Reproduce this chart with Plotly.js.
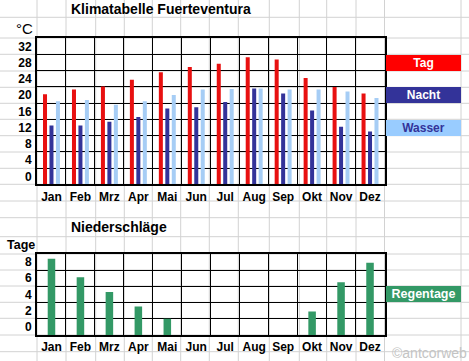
<!DOCTYPE html>
<html>
<head>
<meta charset="utf-8">
<script src="https://cdn.plot.ly/plotly-3.0.1.min.js"></script>
<style>
  html, body { margin: 0; padding: 0; background: #ffffff; }
  #chart { width: 469px; height: 361px; }
</style>
</head>
<body>
<div id="chart"></div>
<script>
// ---- data ----
const months = ['Jan', 'Feb', 'Mrz', 'Apr', 'Mai', 'Jun', 'Jul', 'Aug', 'Sep', 'Okt', 'Nov', 'Dez'];
const tagTemp    = [22.2, 23.4, 24.1, 25.8, 27.6, 28.9, 29.7, 31.3, 30.8, 26.2, 24.0, 22.4];
const nachtTemp  = [14.5, 14.5, 15.4, 16.6, 18.7, 19.0, 20.3, 23.6, 22.4, 18.2, 14.2, 13.0];
const wasserTemp = [20.5, 20.8, 19.6, 20.5, 22.0, 23.4, 23.5, 23.6, 23.4, 23.4, 22.9, 21.3];
const regentage  = [9.4, 7.1, 5.3, 3.5, 2.0, 0, 0, 0, 0, 2.9, 6.5, 8.9];
const tempTicks  = [0, 4, 8, 12, 16, 20, 24, 28, 32];
const rainTicks  = [0, 2, 4, 6, 8];

// ---- page geometry (pixels) ----
const W = 469, H = 361;
const FONT = 'Arial, "Liberation Sans", sans-serif';
const sheetCols = [37, 66, 95.7, 124.3, 152.3, 180.7, 209.3, 238.3, 269.3, 299.3, 326.7, 356, 384.5, 461];
const sheetRows = [17.3, 38, 54.3, 71, 87.3, 103.3, 119.3, 135.7, 152, 168.3, 184.3, 201, 217.7, 236.7, 254, 270, 286, 302.3, 318.3, 335, 351.7];
const px = v => v / W;
const py = v => 1 - v / H;

const shapes = [];
sheetCols.forEach(c => shapes.push({type: 'line', xref: 'paper', yref: 'paper', layer: 'below',
  x0: px(c), x1: px(c), y0: 0, y1: 1, line: {color: '#d2d2d2', width: 1}}));
sheetRows.forEach(r => shapes.push({type: 'line', xref: 'paper', yref: 'paper', layer: 'below',
  x0: 0, x1: 1, y0: py(r), y1: py(r), line: {color: '#d2d2d2', width: 1}}));

const traces = [
  {type: 'bar', name: 'Tag', x: months, y: tagTemp, xaxis: 'x', yaxis: 'y',
   marker: {color: '#e81010', line: {width: 0}}, hoverinfo: 'skip'},
  {type: 'bar', name: 'Nacht', x: months, y: nachtTemp, xaxis: 'x', yaxis: 'y',
   marker: {color: '#333399', line: {width: 0}}, hoverinfo: 'skip'},
  {type: 'bar', name: 'Wasser', x: months, y: wasserTemp, xaxis: 'x', yaxis: 'y',
   marker: {color: '#a6cdf5', line: {width: 0}}, hoverinfo: 'skip'},
  {type: 'bar', name: 'Regentage', x: months, y: regentage, xaxis: 'x2', yaxis: 'y2', width: 0.26,
   marker: {color: '#339966', line: {width: 0}}, hoverinfo: 'skip'}
];

const xCommon = {
  type: 'category', domain: [px(37), px(384.5)],
  tickson: 'boundaries', ticks: '', showgrid: true, gridcolor: '#000000', gridwidth: 1,
  showline: true, linecolor: '#000000', linewidth: 2, mirror: true,
  tickangle: 0, automargin: false,
  tickfont: {family: FONT, size: 12, color: '#000000', weight: 'bold'},
  fixedrange: true
};
const yCommon = {
  ticks: '', showgrid: true, gridcolor: '#000000', gridwidth: 1, zeroline: false,
  showline: true, linecolor: '#000000', linewidth: 2, mirror: true, automargin: false,
  tickfont: {family: FONT, size: 12, color: '#000000', weight: 'bold'},
  ticklabelshift: -8, ticklabelstandoff: 1, fixedrange: true
};

const annFont = (size, color, weight) => ({family: FONT, size: size, color: color, weight: weight || 'bold'});
const legendBox = (text, yref, yv, bg, fg, size) => ({
  xref: 'paper', yref: yref, x: px(385.5), y: yv, xanchor: 'left', yanchor: 'middle',
  text: text, showarrow: false, width: 75, height: 16, borderpad: 0, borderwidth: 0,
  bgcolor: bg, font: annFont(size || 12, fg), align: 'center', valign: 'middle'
});

const layout = {
  width: W, height: H,
  margin: {l: 0, r: 0, t: 0, b: 0, pad: 0},
  paper_bgcolor: '#ffffff', plot_bgcolor: '#ffffff',
  showlegend: false,
  barmode: 'group', bargap: 0.33, bargroupgap: 0.38,
  font: {family: FONT, color: '#000000'},
  xaxis: Object.assign({}, xCommon, {anchor: 'y'}),
  yaxis: Object.assign({}, yCommon, {anchor: 'x', domain: [py(184.3), py(38.3)],
    range: [0, 36], tickvals: tempTicks}),
  xaxis2: Object.assign({}, xCommon, {anchor: 'y2'}),
  yaxis2: Object.assign({}, yCommon, {anchor: 'x2', domain: [py(335), py(253.8)],
    range: [0, 10], tickvals: rainTicks}),
  shapes: shapes,
  annotations: [
    {xref: 'paper', yref: 'paper', x: px(69), y: py(9), xanchor: 'left', yanchor: 'middle',
     text: 'Klimatabelle Fuerteventura', showarrow: false, font: annFont(14, '#000000')},
    {xref: 'paper', yref: 'paper', x: px(34.5), y: py(28), xanchor: 'right', yanchor: 'middle',
     text: '°C', showarrow: false, font: annFont(15, '#000000', 'normal')},
    {xref: 'paper', yref: 'paper', x: px(69), y: py(226.7), xanchor: 'left', yanchor: 'middle',
     text: 'Niederschläge', showarrow: false, font: annFont(14, '#000000')},
    {xref: 'paper', yref: 'paper', x: px(5), y: py(245.5), xanchor: 'left', yanchor: 'middle',
     text: 'Tage', showarrow: false, font: annFont(12.5, '#000000')},
    legendBox('Tag', 'y', 30, '#ff0000', '#ffffff'),
    legendBox('Nacht', 'y', 22, '#333399', '#ffffff'),
    legendBox('Wasser', 'y', 14, '#99ccff', '#333399'),
    legendBox('Regentage', 'y2', 5, '#339966', '#ffffff', 12.5),
    {xref: 'paper', yref: 'paper', x: px(469), y: py(353), xanchor: 'right', yanchor: 'middle',
     text: '©antcorweb', showarrow: false, font: annFont(14, '#c4c4c4', 'normal')}
  ]
};

Plotly.newPlot('chart', traces, layout, {staticPlot: true, displayModeBar: false});
</script>
</body>
</html>
